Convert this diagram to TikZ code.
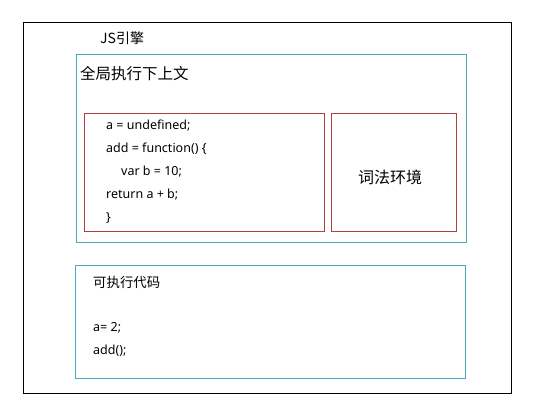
\documentclass[tikz,border=0pt]{standalone}
\usepackage{fontspec}
\setmainfont{Noto Sans}
\newfontfamily\cjk{Noto Sans CJK SC}
\definecolor{tealc}{RGB}{72,168,190}
\definecolor{redc}{RGB}{176,64,64}
\begin{document}
\begin{tikzpicture}[x=1pt,y=-1pt,
  outerbox/.style={draw=black,line width=0.9pt},
  ctxbox/.style={draw=tealc,line width=0.9pt},
  envbox/.style={draw=redc,line width=0.9pt},
  lbl/.style={inner sep=0pt,anchor=west,font=\cjk\fontsize{15.5}{17}\selectfont},
  code/.style={inner sep=0pt,anchor=west,font=\fontsize{12.5}{14}\selectfont}]
\useasboundingbox[fill=white] (0,0) rectangle (535,414);
\draw[outerbox] (23,22) rectangle (511,393);
\node[lbl,font=\cjk\fontsize{14}{16}\selectfont] (engine) at (100,38) {JS引擎};
\draw[ctxbox] (76,54) rectangle (466,242);
\node[lbl] (gctx) at (80,74) {全局执行下上文};
\draw[envbox] (84,113) rectangle (324,231);
\node[code] (l1) at (106,126) {a = undefined;};
\node[code] (l2) at (106,149) {add = function() \{};
\node[code] (l3) at (121,172) {var b = 10;};
\node[code] (l4) at (106,195) {return a + b;};
\node[code] (l5) at (106,218) {\}};
\draw[envbox] (331,113) rectangle (456,231);
\node[lbl,anchor=center,font=\cjk\fontsize{16}{18}\selectfont] (lex) at (390,177) {词法环境};
\draw[ctxbox] (75,265) rectangle (465,378);
\node[lbl,font=\cjk\fontsize{13.4}{15}\selectfont] (exec) at (93,282) {可执行代码};
\node[code] (e1) at (93,328) {a= 2;};
\node[code] (e2) at (93,351) {add();};
\end{tikzpicture}
\end{document}
